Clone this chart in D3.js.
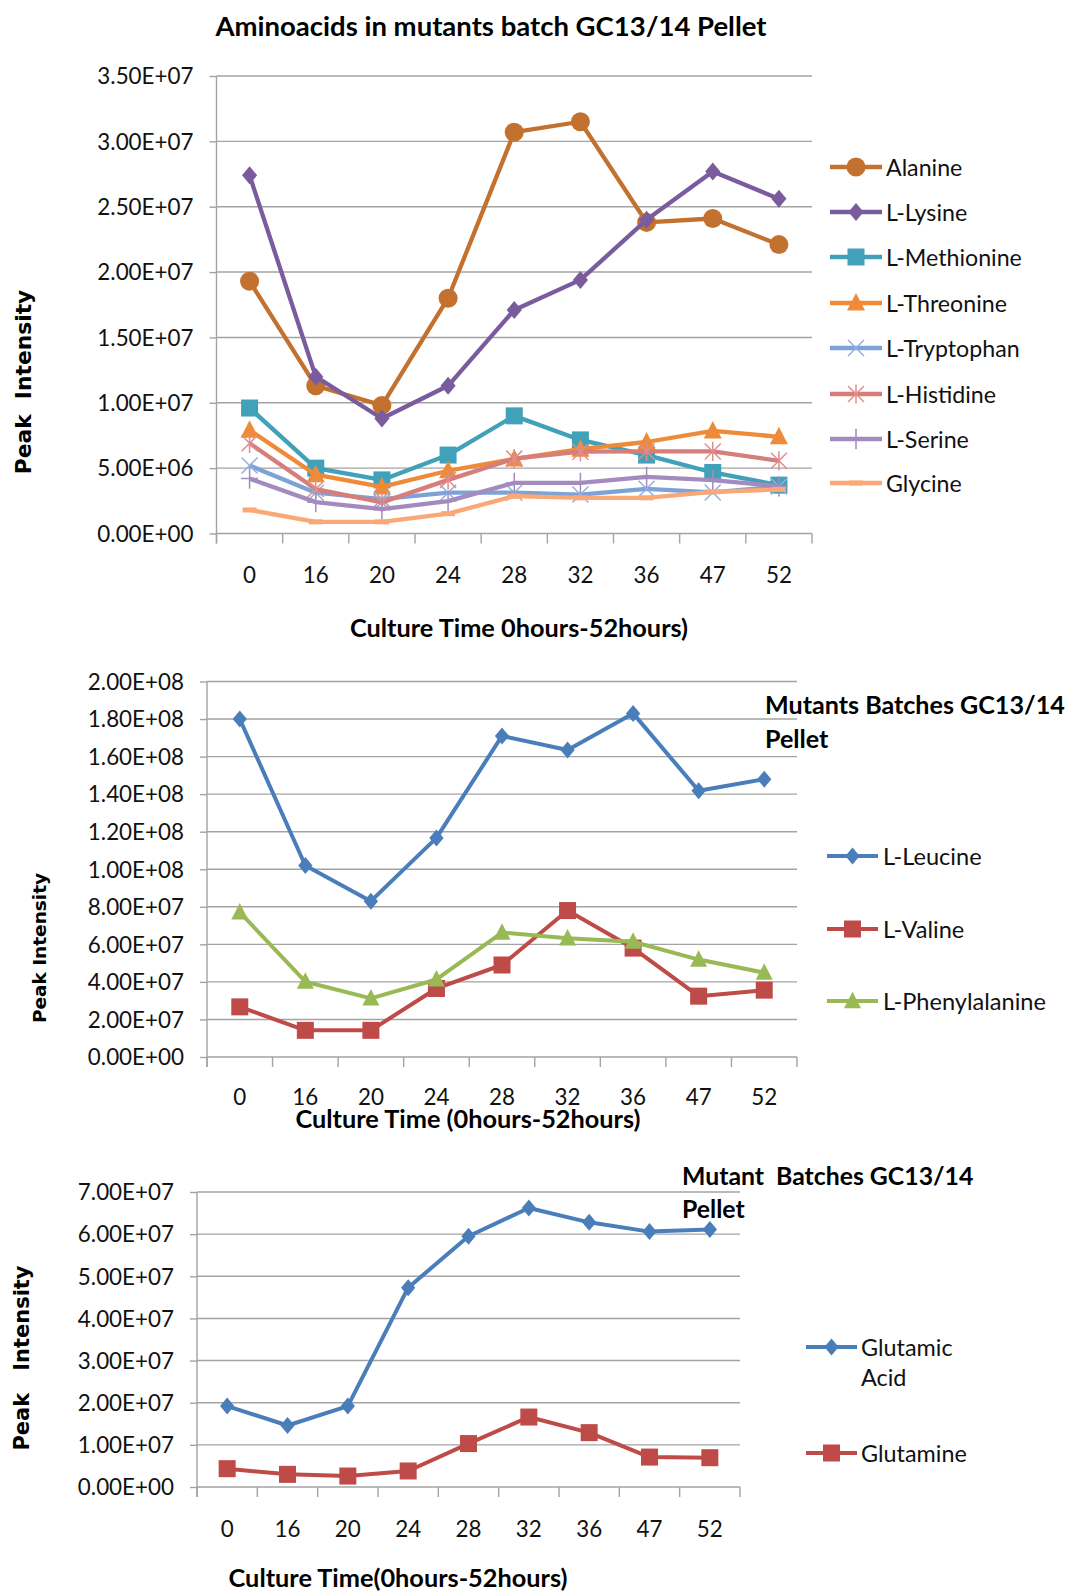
<!DOCTYPE html>
<html>
<head>
<meta charset="utf-8">
<script src="https://cdn.jsdelivr.net/npm/d3@7"></script>
<style>
  html, body { margin: 0; padding: 0; background: #fff; }
  svg { display: block; }
  text { white-space: pre; }
</style>
</head>
<body>
<svg id="fig" width="1067" height="1592"></svg>
<script>
// Sampling times (hours) shared by all three panels
const hours = ["0", "16", "20", "24", "28", "32", "36", "47", "52"];

// Panel 1: amino acids, peak intensity
const alanine    = [1.93e7, 1.13e7, 0.98e7, 1.80e7, 3.07e7, 3.15e7, 2.38e7, 2.41e7, 2.21e7];
const lysine     = [2.74e7, 1.20e7, 0.88e7, 1.13e7, 1.71e7, 1.94e7, 2.40e7, 2.77e7, 2.56e7];
const methionine = [0.96e7, 0.50e7, 0.41e7, 0.60e7, 0.90e7, 0.716e7, 0.60e7, 0.467e7, 0.37e7];
const threonine  = [0.79e7, 0.45e7, 0.357e7, 0.48e7, 0.57e7, 0.645e7, 0.70e7, 0.785e7, 0.74e7];
const tryptophan = [0.52e7, 0.312e7, 0.263e7, 0.312e7, 0.312e7, 0.298e7, 0.342e7, 0.314e7, 0.36e7];
const histidine  = [0.69e7, 0.34e7, 0.238e7, 0.41e7, 0.573e7, 0.626e7, 0.628e7, 0.628e7, 0.556e7];
const serine     = [0.42e7, 0.24e7, 0.186e7, 0.248e7, 0.387e7, 0.387e7, 0.433e7, 0.408e7, 0.362e7];
const glycine    = [0.18e7, 0.089e7, 0.089e7, 0.152e7, 0.286e7, 0.273e7, 0.273e7, 0.319e7, 0.337e7];
const yTicks1    = [0, 5e6, 1e7, 1.5e7, 2e7, 2.5e7, 3e7, 3.5e7];

// Panel 2: branched-chain / aromatic amino acids
const leucine       = [1.80e8, 1.02e8, 0.83e8, 1.167e8, 1.71e8, 1.635e8, 1.83e8, 1.418e8, 1.48e8];
const valine        = [2.67e7, 1.42e7, 1.42e7, 3.65e7, 4.90e7, 7.80e7, 5.80e7, 3.24e7, 3.56e7];
const phenylalanine = [7.71e7, 4.01e7, 3.12e7, 4.13e7, 6.63e7, 6.32e7, 6.14e7, 5.19e7, 4.49e7];
const yTicks2       = [0, 2e7, 4e7, 6e7, 8e7, 1e8, 1.2e8, 1.4e8, 1.6e8, 1.8e8, 2e8];

// Panel 3: glutamic acid / glutamine
const glutamicAcid = [1.92e7, 1.46e7, 1.92e7, 4.73e7, 5.95e7, 6.62e7, 6.28e7, 6.06e7, 6.11e7];
const glutamine    = [0.435e7, 0.30e7, 0.26e7, 0.38e7, 1.03e7, 1.66e7, 1.29e7, 0.71e7, 0.695e7];
const yTicks3      = [0, 1e7, 2e7, 3e7, 4e7, 5e7, 6e7, 7e7];

const LABEL_FONT = "Lato, 'Open Sans', sans-serif";
const TITLE_FONT = "Lato, 'Open Sans', sans-serif";
const AXIS_TITLE_FONT = "'DejaVu Sans', Verdana, sans-serif";

// Excel-style scientific label: 3.50E+07
function sci(v) {
  const [m, e] = v.toExponential(2).split("e");
  const n = parseInt(e, 10);
  return m + "E" + (n < 0 ? "-" : "+") + String(Math.abs(n)).padStart(2, "0");
}

const svg = d3.select("#fig");

// Marker painters, centred on (0,0)
function drawMarker(g, type, color, s) {
  switch (type) {
    case "circle":
      g.append("circle").attr("r", s / 2).attr("fill", color);
      break;
    case "diamond":
      g.append("path").attr("d", `M0,${-s/2}L${s*0.42},0L0,${s/2}L${-s*0.42},0Z`).attr("fill", color);
      break;
    case "square":
      g.append("rect").attr("x", -s/2).attr("y", -s/2).attr("width", s).attr("height", s).attr("fill", color);
      break;
    case "triangle":
      g.append("path").attr("d", `M0,${-s*0.55}L${s/2},${s*0.42}L${-s/2},${s*0.42}Z`).attr("fill", color);
      break;
    case "x":
      g.append("path").attr("d", `M${-s/2},${-s/2}L${s/2},${s/2}M${-s/2},${s/2}L${s/2},${-s/2}`)
        .attr("stroke", color).attr("stroke-width", 1.5).attr("fill", "none");
      break;
    case "star":
      g.append("path").attr("d", `M${-s/2},${-s/2}L${s/2},${s/2}M${-s/2},${s/2}L${s/2},${-s/2}M0,${-s*0.6}L0,${s*0.6}`)
        .attr("stroke", color).attr("stroke-width", 1.5).attr("fill", "none");
      break;
    case "plus":
      g.append("path").attr("d", `M0,${-s*0.6}L0,${s*0.6}M${-s/2},0L${s/2},0`)
        .attr("stroke", color).attr("stroke-width", 1.5).attr("fill", "none");
      break;
    case "dash":
      g.append("rect").attr("x", -s/2).attr("y", -2.5).attr("width", s).attr("height", 5).attr("fill", color);
      break;
  }
}

function drawPanel(cfg) {
  const g = svg.append("g");
  const x = d3.scaleBand().domain(hours).range([cfg.left, cfg.right]).padding(0);
  const y = d3.scaleLinear().domain([0, cfg.max]).range([cfg.bottom, cfg.top]);
  const gridColor = "#a3a3a3";

  // horizontal gridlines
  g.append("g").selectAll("line").data(cfg.yTicks).join("line")
    .attr("x1", cfg.left).attr("x2", cfg.right)
    .attr("y1", d => y(d)).attr("y2", d => y(d))
    .attr("stroke", gridColor).attr("stroke-width", 1.4);

  // y axis with outside ticks
  const yAxis = d3.axisLeft(y).tickValues(cfg.yTicks).tickFormat(sci).tickSize(7).tickPadding(cfg.tickPad);
  const ya = g.append("g").attr("transform", `translate(${cfg.left},0)`).call(yAxis);
  ya.select(".domain").remove();
  ya.selectAll(".tick line").attr("stroke", gridColor).attr("stroke-width", 1.4);
  ya.selectAll(".tick text").attr("font-family", LABEL_FONT).attr("font-size", cfg.tickFont)
    .attr("fill", "#111").attr("dy", "0.35em");
  g.append("line").attr("x1", cfg.left).attr("x2", cfg.left).attr("y1", cfg.top).attr("y2", cfg.bottom + 10)
    .attr("stroke", gridColor).attr("stroke-width", 1.4);

  // x axis: ticks at category boundaries
  const bounds = hours.map(h => x(h)).concat([cfg.right]);
  g.append("g").selectAll("line").data(bounds).join("line")
    .attr("x1", d => d).attr("x2", d => d).attr("y1", cfg.bottom).attr("y2", cfg.bottom + 10)
    .attr("stroke", gridColor).attr("stroke-width", 1.4);
  g.append("g").selectAll("text").data(hours).join("text")
    .attr("x", d => x(d) + x.bandwidth() / 2).attr("y", cfg.xLabelY)
    .attr("text-anchor", "middle").attr("dominant-baseline", "central")
    .attr("font-family", LABEL_FONT).attr("font-size", cfg.tickFont).attr("fill", "#111")
    .text(d => d);

  // series: line then markers, in legend order
  const line = d3.line().x((d, i) => x(hours[i]) + x.bandwidth() / 2).y(d => y(d));
  cfg.series.forEach(s => {
    g.append("path").datum(s.values).attr("d", line)
      .attr("fill", "none").attr("stroke", s.color).attr("stroke-width", cfg.lineWidth)
      .attr("stroke-linejoin", "round");
    s.values.forEach((v, i) => {
      const m = g.append("g").attr("transform", `translate(${x(hours[i]) + x.bandwidth() / 2},${y(v)})`);
      drawMarker(m, s.marker, s.markerColor || s.color, s.size);
    });
  });

  // legend
  cfg.series.forEach((s, i) => {
    const ly = cfg.legend.rows[i];
    g.append("line").attr("x1", cfg.legend.x0).attr("x2", cfg.legend.x1).attr("y1", ly).attr("y2", ly)
      .attr("stroke", s.color).attr("stroke-width", cfg.lineWidth);
    const m = g.append("g").attr("transform", `translate(${(cfg.legend.x0 + cfg.legend.x1) / 2},${ly})`);
    drawMarker(m, s.marker, s.markerColor || s.color, s.size);
    const lines = s.label.split("\n");
    lines.forEach((t, k) => {
      g.append("text").attr("x", cfg.legend.tx).attr("y", ly + k * cfg.legend.lineGap)
        .attr("dominant-baseline", "central")
        .attr("font-family", LABEL_FONT).attr("font-size", cfg.legend.font).attr("fill", "#111")
        .text(t);
    });
  });

  // titles
  cfg.title.lines.forEach((t, k) => {
    g.append("text").attr("x", cfg.title.x).attr("y", cfg.title.y + k * cfg.title.gap)
      .attr("text-anchor", cfg.title.anchor).attr("dominant-baseline", "central")
      .attr("font-family", TITLE_FONT).attr("font-weight", "bold").attr("font-size", cfg.title.font)
      .attr("fill", "#000").text(t);
  });
  g.append("text").attr("x", cfg.xTitle.x).attr("y", cfg.xTitle.y)
    .attr("text-anchor", "middle").attr("dominant-baseline", "central")
    .attr("font-family", TITLE_FONT).attr("font-weight", "bold").attr("font-size", cfg.xTitle.font)
    .attr("fill", "#000").text(cfg.xTitle.text);
  g.append("text").attr("transform", `translate(${cfg.yTitle.x},${cfg.yTitle.y}) rotate(-90)`)
    .attr("text-anchor", "middle").attr("dominant-baseline", "central")
    .attr("font-family", AXIS_TITLE_FONT).attr("font-weight", "bold").attr("font-size", cfg.yTitle.font)
    .attr("fill", "#000")
    .text(cfg.yTitle.text);
}

// Panel 1
drawPanel({
  left: 216.5, right: 812, top: 76, bottom: 533.5, max: 3.5e7, yTicks: yTicks1,
  tickPad: 16, tickFont: 22.4, xLabelY: 574.5, lineWidth: 4.3,
  series: [
    { label: "Alanine",      values: alanine,    color: "#c3712f", marker: "circle",   size: 19 },
    { label: "L-Lysine",     values: lysine,     color: "#7a5c9e", marker: "diamond",  size: 18 },
    { label: "L-Methionine", values: methionine, color: "#40a1b9", marker: "square",   size: 17 },
    { label: "L-Threonine",  values: threonine,  color: "#ef8a38", marker: "triangle", size: 18 },
    { label: "L-Tryptophan", values: tryptophan, color: "#7ea2d6", marker: "x",        size: 16, markerColor: "#8fb0e0" },
    { label: "L-Histidine",  values: histidine,  color: "#d67e7c", marker: "star",     size: 16, markerColor: "#e08e8c" },
    { label: "L-Serine",     values: serine,     color: "#a38bbf", marker: "plus",     size: 17 },
    { label: "Glycine",      values: glycine,    color: "#f9a876", marker: "dash",     size: 14 }
  ],
  legend: { x0: 830, x1: 882, tx: 886, font: 23.2, lineGap: 30,
            rows: [167, 212, 257, 303, 348, 394, 439, 483] },
  title: { lines: ["Aminoacids in mutants batch GC13/14 Pellet"], x: 491, y: 25, gap: 0, anchor: "middle", font: 27.5 },
  xTitle: { text: "Culture Time 0hours-52hours)", x: 519, y: 627, font: 25.3 },
  yTitle: { text: "Peak  Intensity", x: 23, y: 382, font: 21.8 }
});

// Panel 2
drawPanel({
  left: 207, right: 797, top: 681.5, bottom: 1057, max: 2e8, yTicks: yTicks2,
  tickPad: 16, tickFont: 22.4, xLabelY: 1096, lineWidth: 4,
  series: [
    { label: "L-Leucine",       values: leucine,       color: "#4a7ebb", marker: "diamond",  size: 17 },
    { label: "L-Valine",        values: valine,        color: "#be4b48", marker: "square",   size: 17 },
    { label: "L-Phenylalanine", values: phenylalanine, color: "#98b954", marker: "triangle", size: 17 }
  ],
  legend: { x0: 827, x1: 878, tx: 883, font: 23.6, lineGap: 30, rows: [856, 929, 1001] },
  title: { lines: ["Mutants Batches GC13/14", "Pellet"], x: 765, y: 704, gap: 34, anchor: "start", font: 25.1 },
  xTitle: { text: "Culture Time (0hours-52hours)", x: 468, y: 1118, font: 25.3 },
  yTitle: { text: "Peak Intensity", x: 39, y: 948, font: 18.5 }
});

// Panel 3
drawPanel({
  left: 197, right: 740, top: 1192, bottom: 1487, max: 7e7, yTicks: yTicks3,
  tickPad: 16, tickFont: 22.4, xLabelY: 1528, lineWidth: 4,
  series: [
    { label: "Glutamic\nAcid", values: glutamicAcid, color: "#4a7ebb", marker: "diamond", size: 17 },
    { label: "Glutamine",      values: glutamine,    color: "#be4b48", marker: "square",  size: 17 }
  ],
  legend: { x0: 806, x1: 857, tx: 861, font: 23.4, lineGap: 30, rows: [1347, 1453] },
  title: { lines: ["Mutant  Batches GC13/14", "Pellet"], x: 682, y: 1175, gap: 33, anchor: "start", font: 24.8 },
  xTitle: { text: "Culture Time(0hours-52hours)", x: 398, y: 1577, font: 25.3 },
  yTitle: { text: "Peak   Intensity", x: 22, y: 1358, font: 21 }
});
</script>
</body>
</html>
